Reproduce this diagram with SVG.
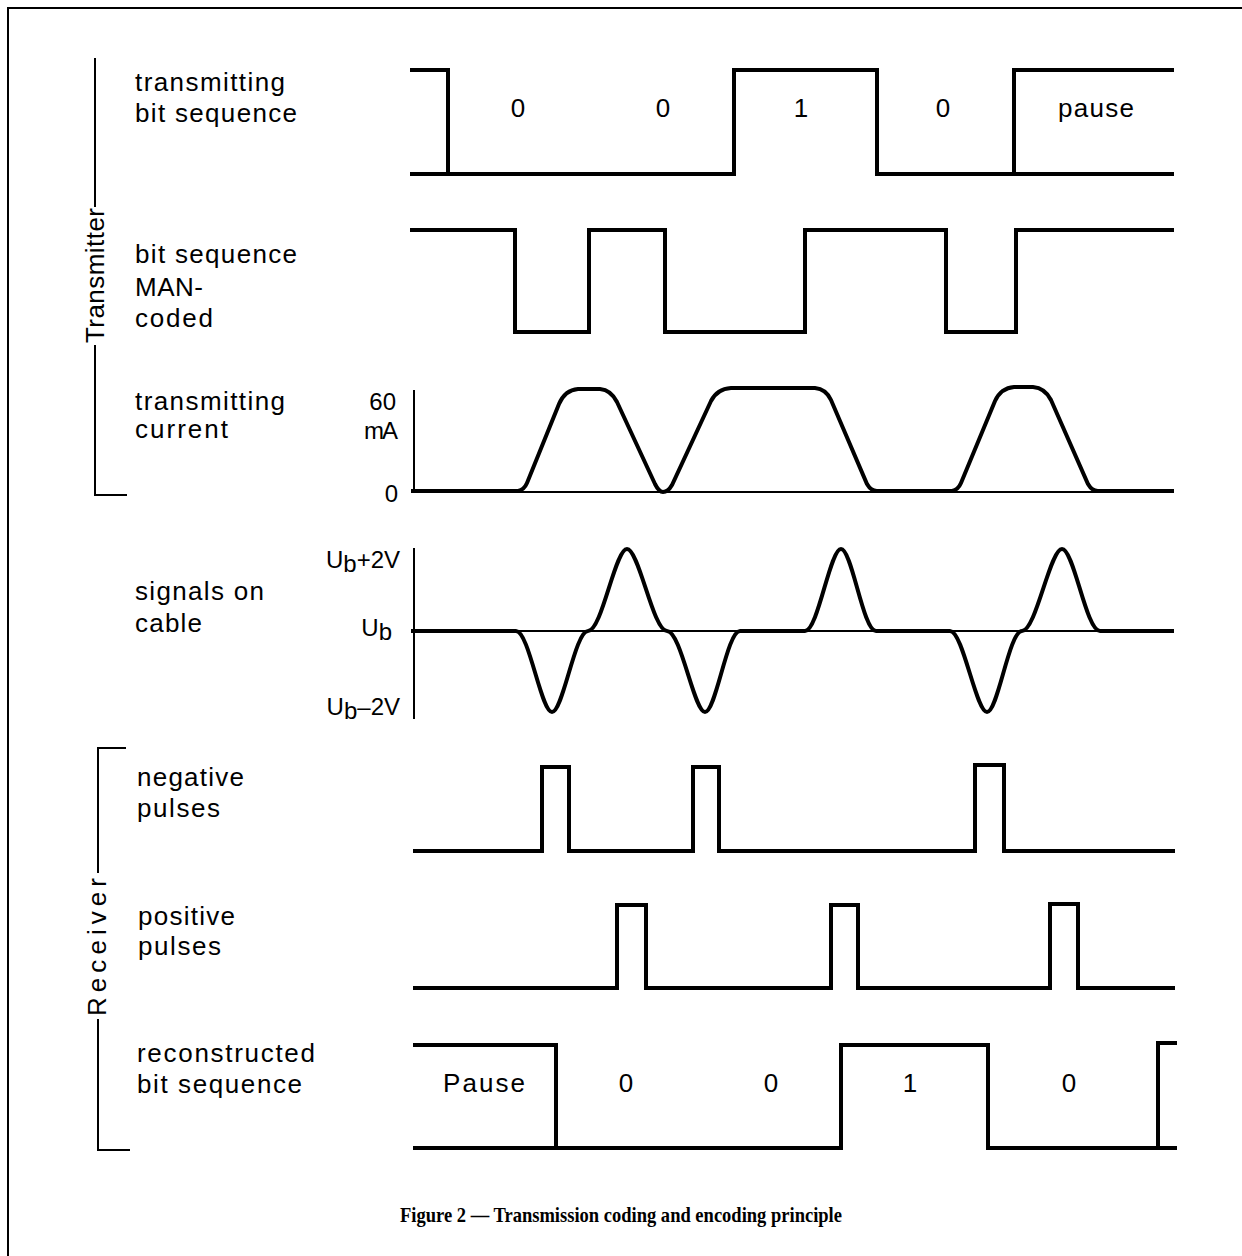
<svg xmlns="http://www.w3.org/2000/svg" width="1242" height="1256" viewBox="0 0 1242 1256">
<style>
  .lbl { font-family: "Liberation Sans", Arial, sans-serif; font-size: 26px; fill: #000; }
  .val { font-family: "Liberation Sans", Arial, sans-serif; font-size: 26px; fill: #000; text-anchor: middle; }
  .ax { font-family: "Liberation Sans", Arial, sans-serif; font-size: 24px; fill: #000; text-anchor: end; }
  .wave { fill: none; stroke: #000; stroke-width: 4; stroke-linejoin: miter; stroke-linecap: square; }
  .thin { fill: none; stroke: #000; stroke-width: 2; }
  .cap { font-family: "Liberation Serif", "Times New Roman", serif; font-size: 22px; font-weight: bold; fill: #000; text-anchor: middle; }
</style>
<rect x="0" y="0" width="1242" height="1256" fill="#fff"/>
<rect id="frame" x="8" y="8" width="1260" height="1270" fill="none" stroke="#000" stroke-width="2"/>

<g id="connectors">
  <!-- Transmitter bracket -->
  <path class="thin" d="M95,58 V207 M95,345 V495 H127"/>
  <!-- Receiver bracket -->
  <path class="thin" d="M126,748 H98 V873 M98,1019 V1150 H130"/>
</g>

<g id="transmitter-label">
  <text class="lbl" transform="translate(104,343) rotate(-90)" textLength="135" lengthAdjust="spacing">Transmitter</text>
</g>
<g id="receiver-label">
  <text class="lbl" transform="translate(106,1016) rotate(-90)" textLength="138" lengthAdjust="spacing">Receiver</text>
</g>

<g id="row-transmit-bits">
  <text class="lbl" x="135" y="91" textLength="150" lengthAdjust="spacing">transmitting</text>
  <text class="lbl" x="135" y="122" textLength="162" lengthAdjust="spacing">bit sequence</text>
  <path class="wave" d="M412,70 H448 V174 M412,174 H734 V70 H877 V174 H1014 V70 H1172 M1014,174 H1172"/>
  <text class="val" x="518" y="117">0</text>
  <text class="val" x="663" y="117">0</text>
  <text class="val" x="801" y="117">1</text>
  <text class="val" x="943" y="117">0</text>
  <text class="val" x="1096" y="117" textLength="76" lengthAdjust="spacing">pause</text>
</g>

<g id="row-man-coded">
  <text class="lbl" x="135" y="263" textLength="162" lengthAdjust="spacing">bit sequence</text>
  <text class="lbl" x="135" y="296" textLength="68" lengthAdjust="spacing">MAN-</text>
  <text class="lbl" x="135" y="327" textLength="78" lengthAdjust="spacing">coded</text>
  <path class="wave" d="M412,230 H515 V332 H589 V230 H665 V332 H805 V230 H946 V332 H1016 V230 H1172"/>
</g>

<g id="row-current">
  <text class="lbl" x="135" y="410" textLength="150" lengthAdjust="spacing">transmitting</text>
  <text class="lbl" x="135" y="438" textLength="93" lengthAdjust="spacing">current</text>
  <text class="ax" x="396" y="410">60</text>
  <text class="ax" x="398" y="439" textLength="34" lengthAdjust="spacing">mA</text>
  <text class="ax" x="398" y="502">0</text>
  <path class="thin" d="M414,390 V493 M413,492 H1172"/>
  <path class="wave" d="M413,491 H518 Q524,490 527,483 L559,404 Q565,390 578,389 H600 Q611,390 617,402 L655,484 Q659,492 663,492 Q668,492 672,485 L711,401 Q717,389 731,388 H815 Q826,389 831,400 L867,484 Q871,491 877,491 H952 Q958,490 961,483 L995,401 Q1001,388 1014,387 H1033 Q1045,388 1051,400 L1088,484 Q1092,491 1098,491 H1172"/>
</g>

<g id="row-cable">
  <text class="lbl" x="135" y="600" textLength="129" lengthAdjust="spacing">signals on</text>
  <text class="lbl" x="135" y="632" textLength="67" lengthAdjust="spacing">cable</text>
  <text class="ax" x="400" y="568">U<tspan dy="4">b</tspan><tspan dy="-4">+2V</tspan></text>
  <text class="ax" x="392" y="636">U<tspan dy="4">b</tspan></text>
  <text class="ax" x="400" y="715">U<tspan dy="4">b</tspan><tspan dy="-4">–2V</tspan></text>
  <path class="thin" d="M414,548 V719 M413,631 H1172"/>
  <path class="wave" d="M413,631 H516 C529,631 541,712 552,712 C563,712 575,631 588,631 C602,631 615,549 627,549 C639,549 653,631 667,631 C681,631 694,712 705,712 C716,712 727,631 740,631 L805,631 C818,631 830,549 841,549 C852,549 863,631 876,631 L950,631 C963,631 976,712 987,712 C998,712 1009,631 1022,631 C1036,631 1050,549 1062,549 C1074,549 1086,631 1100,631 L1172,631"/>
</g>

<g id="row-negative">
  <text class="lbl" x="137" y="786" textLength="107" lengthAdjust="spacing">negative</text>
  <text class="lbl" x="137" y="817" textLength="83" lengthAdjust="spacing">pulses</text>
  <path class="wave" d="M415,851 H542 V767 H569 V851 H693 V767 H719 V851 H975 V765 H1004 V851 H1173"/>
</g>

<g id="row-positive">
  <text class="lbl" x="138" y="925" textLength="97" lengthAdjust="spacing">positive</text>
  <text class="lbl" x="138" y="955" textLength="83" lengthAdjust="spacing">pulses</text>
  <path class="wave" d="M415,988 H617 V905 H646 V988 H831 V905 H858 V988 H1050 V904 H1078 V988 H1173"/>
</g>

<g id="row-reconstructed">
  <text class="lbl" x="137" y="1062" textLength="178" lengthAdjust="spacing">reconstructed</text>
  <text class="lbl" x="137" y="1093" textLength="165" lengthAdjust="spacing">bit sequence</text>
  <path class="wave" d="M415,1045 H556 V1148 M415,1148 H841 V1045 H988 V1148 H1158 V1043 H1175 M1158,1148 H1175"/>
  <text class="val" x="484" y="1092" textLength="82" lengthAdjust="spacing">Pause</text>
  <text class="val" x="626" y="1092">0</text>
  <text class="val" x="771" y="1092">0</text>
  <text class="val" x="910" y="1092">1</text>
  <text class="val" x="1069" y="1092">0</text>
</g>

<g id="caption">
  <text class="cap" x="621" y="1222" textLength="442" lengthAdjust="spacingAndGlyphs">Figure 2 — Transmission coding and encoding principle</text>
</g>
</svg>
